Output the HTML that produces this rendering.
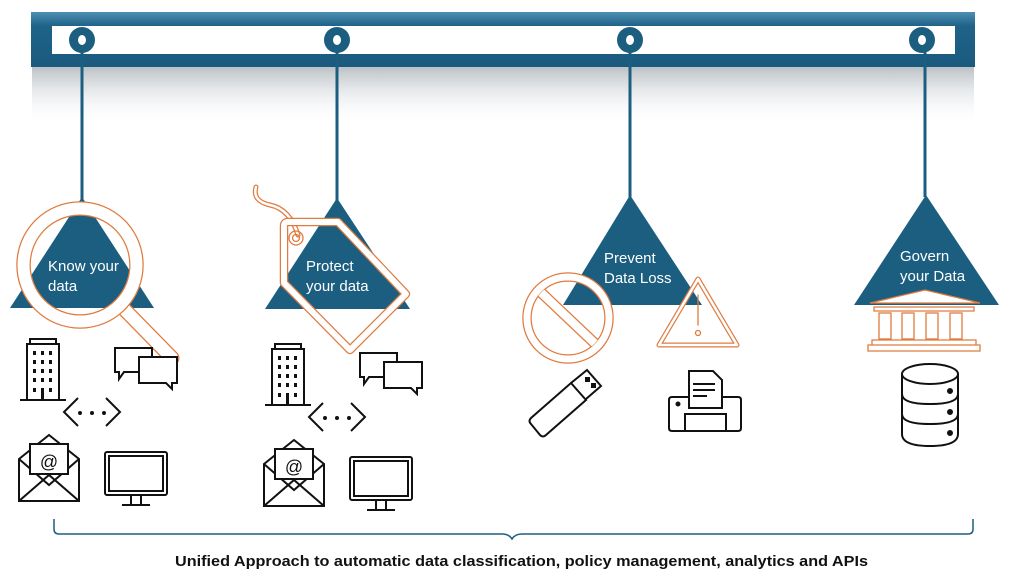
<!DOCTYPE html>
<html><head><meta charset="utf-8"><style>
html,body{margin:0;padding:0;background:#fff;width:1024px;height:577px;overflow:hidden}
svg{display:block}
</style></head><body>
<svg width="1024" height="577" viewBox="0 0 1024 577" xmlns="http://www.w3.org/2000/svg" font-family="Liberation Sans, sans-serif">
<defs>
<linearGradient id="sh" x1="0" y1="0" x2="0" y2="1">
<stop offset="0" stop-color="#9aa3aa" stop-opacity="0.7"/><stop offset="1" stop-color="#fff" stop-opacity="0"/>
</linearGradient>
<linearGradient id="bar" x1="0" y1="0" x2="0" y2="1">
<stop offset="0" stop-color="#4e8fb3"/><stop offset="0.25" stop-color="#1f6388"/><stop offset="1" stop-color="#1a5a7e"/>
</linearGradient>
<clipPath id="nc"><circle cx="568" cy="318" r="37"/></clipPath>
<g id="icons" fill="none" stroke="#111" stroke-width="2">
<rect x="27" y="344" width="32" height="56"/><rect x="30" y="339" width="26" height="5"/>
<line x1="20" y1="400" x2="66" y2="400"/>
<g fill="#111" stroke="none">
<rect x="33" y="351" width="3" height="4"/><rect x="41" y="351" width="3" height="4"/><rect x="49" y="351" width="3" height="4"/>
<rect x="33" y="360" width="3" height="4"/><rect x="41" y="360" width="3" height="4"/><rect x="49" y="360" width="3" height="4"/>
<rect x="33" y="369" width="3" height="4"/><rect x="41" y="369" width="3" height="4"/><rect x="49" y="369" width="3" height="4"/>
<rect x="33" y="378" width="3" height="4"/><rect x="41" y="378" width="3" height="4"/><rect x="49" y="378" width="3" height="4"/>
<rect x="33" y="388" width="3" height="4"/><rect x="49" y="388" width="3" height="4"/><rect x="41" y="388" width="3" height="12"/>
</g>
<path d="M115 348 h37 v24 h-28 l-5 7 v-7 h-4 z"/>
<path d="M139 357 h38 v26 h-5 v6 l-6 -6 h-27 z" fill="#fff"/>
<path d="M78 398 l-14 14 l14 14 M106 398 l14 14 l-14 14"/>
<g fill="#111" stroke="none"><circle cx="80" cy="413" r="2"/><circle cx="92" cy="413" r="2"/><circle cx="104" cy="413" r="2"/></g>
<path d="M19 459 l30 -24 l30 24 v42 h-60 z M19 459 l30 26 l30 -26"/>
<rect x="30" y="444" width="38" height="30" fill="#fff"/>
<text x="49" y="468" font-size="18" fill="#111" stroke="none" text-anchor="middle">@</text>
<path d="M19 501 l30 -26 l30 26"/>
<rect x="105" y="452" width="62" height="43" rx="2"/><rect x="109" y="456" width="54" height="35"/>
<path d="M131 495 v9 M141 495 v9 M122 505 h28"/>
</g>
</defs>
<rect x="32" y="66" width="942" height="60" fill="url(#sh)"/>
<rect x="31" y="12" width="944" height="55" fill="url(#bar)"/>
<rect x="52" y="26" width="903" height="28" fill="#fff"/>
<g stroke="#1b5e80" stroke-width="3">
<line x1="82" y1="40" x2="82" y2="200"/><line x1="337" y1="40" x2="337" y2="200"/>
<line x1="630" y1="40" x2="630" y2="197"/><line x1="925" y1="40" x2="925" y2="197"/>
</g>
<g fill="#1b5e80">
<circle cx="82" cy="40" r="13"/><circle cx="337" cy="40" r="13"/><circle cx="630" cy="40" r="13"/><circle cx="922" cy="40" r="13"/>
</g>
<g fill="#fff"><ellipse cx="82" cy="40" rx="4" ry="5"/><ellipse cx="337" cy="40" rx="4" ry="5"/><ellipse cx="630" cy="40" rx="4" ry="5"/><ellipse cx="922" cy="40" rx="4" ry="5"/></g>
<g fill="#1b5e80">
<polygon points="82,197 154,308 10,308"/><polygon points="337,198 410,309 265,309"/>
<polygon points="630,195 702,305 563,305"/><polygon points="926,195 999,305 854,305"/>
</g>
<g fill="#fff" font-size="15">
<text x="48" y="271">Know your</text><text x="48" y="291">data</text>
<text x="306" y="271">Protect</text><text x="306" y="291">your data</text>
<text x="604" y="263">Prevent</text><text x="604" y="283">Data Loss</text>
<text x="900" y="261">Govern</text><text x="900" y="281">your Data</text>
</g>
<!-- orange double-line icons: orange thick stroke then white thinner stroke -->
<g fill="none" stroke-linejoin="round" stroke-linecap="round">
<!-- magnifier -->
<path d="M124 309 L172 358" stroke="#e07b3f" stroke-width="15"/>
<path d="M124 309 L172 358" stroke="#fff" stroke-width="12.4"/>
<circle cx="80" cy="265" r="56.5" stroke="#e07b3f" stroke-width="14.5"/>
<circle cx="80" cy="265" r="56.5" stroke="#fff" stroke-width="12"/>
<!-- tag -->
<path d="M256 187 q-4 14 14 18 q20 4 28 30" stroke="#e07b3f" stroke-width="5"/>
<path d="M256 187 q-4 14 14 18 q20 4 28 30" stroke="#fff" stroke-width="2.5"/>
<path d="M284 226 q0 -4 4 -4 h50 l68 72 l-56 56 l-66 -67 z" stroke="#e07b3f" stroke-width="8.5"/>
<path d="M284 226 q0 -4 4 -4 h50 l68 72 l-56 56 l-66 -67 z" stroke="#fff" stroke-width="6"/>
<g stroke="#e07b3f" stroke-width="1.3"><circle cx="296" cy="238" r="7"/><circle cx="296" cy="238" r="3.5"/></g>
<!-- no sign -->
<circle cx="568" cy="318" r="41" stroke="#e07b3f" stroke-width="9.5"/>
<circle cx="568" cy="318" r="41" stroke="#fff" stroke-width="7"/>
<g clip-path="url(#nc)">
<line x1="530" y1="282" x2="606" y2="354" stroke="#e07b3f" stroke-width="11" stroke-linecap="butt"/>
<line x1="530" y1="282" x2="606" y2="354" stroke="#fff" stroke-width="8.5" stroke-linecap="butt"/>
</g>
<!-- warning -->
<path d="M698 279 l39 66 h-78 z" stroke="#e07b3f" stroke-width="5"/>
<path d="M698 279 l39 66 h-78 z" stroke="#fff" stroke-width="2.6"/>
<g stroke="#e07b3f" stroke-width="1.3"><line x1="698" y1="295" x2="698" y2="325"/><circle cx="698" cy="333" r="2.5"/></g>
</g>
<g fill="#fff" stroke="#e07b3f" stroke-width="1.3">
<path d="M870 303 l55 -13 l55 13 z"/>
<path d="M874 307 h100 v4 h-100 z"/>
<rect x="879" y="313" width="12" height="26"/><rect x="902" y="313" width="12" height="26"/><rect x="926" y="313" width="12" height="26"/><rect x="950" y="313" width="12" height="26"/>
<path d="M872 340 h104 v5 h-104 z M868 345 h112 v6 h-112 z"/>
</g>
<use href="#icons"/>
<use href="#icons" transform="translate(245,5)"/>
<g fill="none" stroke="#111" stroke-width="2">
<path d="M531 418 l40 -35 l15 17 l-40 35 q-3 3 -6 0 l-9 -11 q-3 -3 0 -6 z"/>
<path d="M571 383 l16 -13 l14 16 l-15 13"/>
<rect x="586" y="378" width="3" height="3" fill="#111"/><rect x="592" y="384" width="3" height="3" fill="#111"/>
<path d="M689 397 h-17 q-3 0 -3 3 v28 q0 3 3 3 h66 q3 0 3 -3 v-28 q0 -3 -3 -3 h-17"/>
<path d="M689 371 h24 l9 9 v28 h-33 z"/><path d="M693 384 h22 M693 390 h22 M693 396 h14"/>
<rect x="685" y="414" width="41" height="17"/><circle cx="678" cy="404" r="1.5" fill="#111"/>
<ellipse cx="930" cy="374" rx="28" ry="10"/>
<path d="M902 374 v60 q0 12 28 12 q28 0 28 -12 v-60 M902 394 q0 10 28 10 q28 0 28 -10 M902 414 q0 10 28 10 q28 0 28 -10"/>
<g fill="#111"><circle cx="950" cy="391" r="2"/><circle cx="950" cy="412" r="2"/><circle cx="950" cy="433" r="2"/></g>
</g>
<path d="M54 519 v10 q0 5 5 5 h443 q7 0 10 5 q3 -5 10 -5 h446 q5 0 5 -5 v-10" fill="none" stroke="#1b5e80" stroke-width="1.5"/>
<text x="175" y="566" font-size="15" font-weight="bold" fill="#111" textLength="693" lengthAdjust="spacingAndGlyphs">Unified Approach to automatic data classification, policy management, analytics and APIs</text>
</svg>
</body></html>
